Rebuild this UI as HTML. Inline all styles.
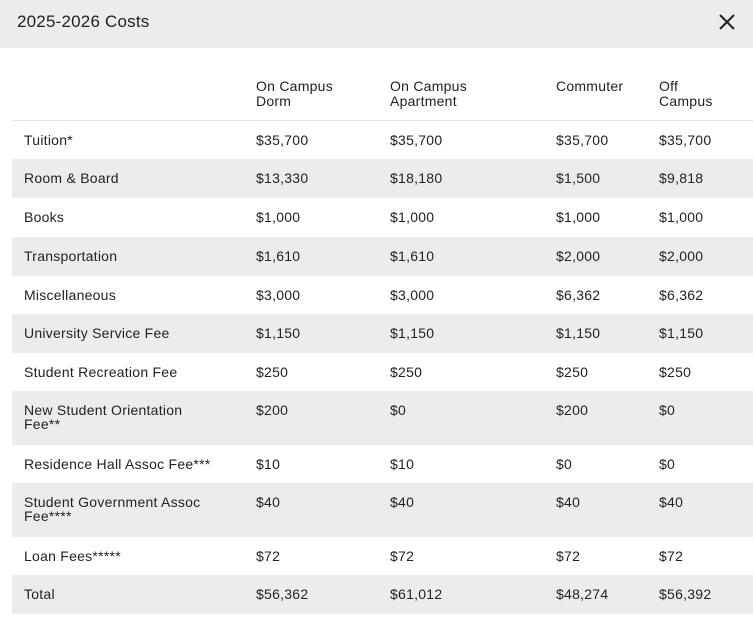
<!DOCTYPE html>
<html><head><style>
body{margin:0;width:753px;height:623px;background:#fff;font-family:"Liberation Sans",sans-serif;color:#222;position:relative;overflow:hidden}
.hdr{position:absolute;left:0;top:0;width:753px;height:48px;background:#ececec}
.t{position:absolute;left:17px;top:12px;font-size:17px;color:#222;letter-spacing:0.2px}
.row{position:absolute;left:12px;width:741px}
.g{background:#ececec}
.c{position:absolute;font-size:14px;line-height:14px;top:12px;letter-spacing:0.25px}
</style></head><body>
<div class="hdr"><div class="t">2025-2026 Costs</div>
<svg style="position:absolute;left:719px;top:14px" width="16" height="16"><path d="M1 1L15 15M15 1L1 15" stroke="#222" stroke-width="2"/></svg></div>
<div class="row" style="top:72px;height:48px;border-bottom:1px solid #e6e6e6">
<div class="c" style="left:244px;top:7px;line-height:15px">On Campus<br>Dorm</div>
<div class="c" style="left:378px;top:7px;line-height:15px">On Campus<br>Apartment</div>
<div class="c" style="left:544px;top:7px;line-height:15px">Commuter</div>
<div class="c" style="left:647px;top:7px;line-height:15px">Off<br>Campus</div></div>

<div class="row" style="top:121px;height:38px"><div class="c" style="left:12px">Tuition*</div><div class="c" style="left:244px">$35,700</div><div class="c" style="left:378px">$35,700</div><div class="c" style="left:544px">$35,700</div><div class="c" style="left:647px">$35,700</div></div>
<div class="row g" style="top:159px;height:39px"><div class="c" style="left:12px">Room &amp; Board</div><div class="c" style="left:244px">$13,330</div><div class="c" style="left:378px">$18,180</div><div class="c" style="left:544px">$1,500</div><div class="c" style="left:647px">$9,818</div></div>
<div class="row" style="top:198px;height:39px"><div class="c" style="left:12px">Books</div><div class="c" style="left:244px">$1,000</div><div class="c" style="left:378px">$1,000</div><div class="c" style="left:544px">$1,000</div><div class="c" style="left:647px">$1,000</div></div>
<div class="row g" style="top:237px;height:39px"><div class="c" style="left:12px">Transportation</div><div class="c" style="left:244px">$1,610</div><div class="c" style="left:378px">$1,610</div><div class="c" style="left:544px">$2,000</div><div class="c" style="left:647px">$2,000</div></div>
<div class="row" style="top:276px;height:38px"><div class="c" style="left:12px">Miscellaneous</div><div class="c" style="left:244px">$3,000</div><div class="c" style="left:378px">$3,000</div><div class="c" style="left:544px">$6,362</div><div class="c" style="left:647px">$6,362</div></div>
<div class="row g" style="top:314px;height:39px"><div class="c" style="left:12px">University Service Fee</div><div class="c" style="left:244px">$1,150</div><div class="c" style="left:378px">$1,150</div><div class="c" style="left:544px">$1,150</div><div class="c" style="left:647px">$1,150</div></div>
<div class="row" style="top:353px;height:38px"><div class="c" style="left:12px">Student Recreation Fee</div><div class="c" style="left:244px">$250</div><div class="c" style="left:378px">$250</div><div class="c" style="left:544px">$250</div><div class="c" style="left:647px">$250</div></div>
<div class="row g" style="top:391px;height:54px"><div class="c" style="left:12px">New Student Orientation<br>Fee**</div><div class="c" style="left:244px">$200</div><div class="c" style="left:378px">$0</div><div class="c" style="left:544px">$200</div><div class="c" style="left:647px">$0</div></div>
<div class="row" style="top:445px;height:38px"><div class="c" style="left:12px">Residence Hall Assoc Fee***</div><div class="c" style="left:244px">$10</div><div class="c" style="left:378px">$10</div><div class="c" style="left:544px">$0</div><div class="c" style="left:647px">$0</div></div>
<div class="row g" style="top:483px;height:54px"><div class="c" style="left:12px">Student Government Assoc<br>Fee****</div><div class="c" style="left:244px">$40</div><div class="c" style="left:378px">$40</div><div class="c" style="left:544px">$40</div><div class="c" style="left:647px">$40</div></div>
<div class="row" style="top:537px;height:38px"><div class="c" style="left:12px">Loan Fees*****</div><div class="c" style="left:244px">$72</div><div class="c" style="left:378px">$72</div><div class="c" style="left:544px">$72</div><div class="c" style="left:647px">$72</div></div>
<div class="row g" style="top:575px;height:39px"><div class="c" style="left:12px">Total</div><div class="c" style="left:244px">$56,362</div><div class="c" style="left:378px">$61,012</div><div class="c" style="left:544px">$48,274</div><div class="c" style="left:647px">$56,392</div></div>
</body></html>
